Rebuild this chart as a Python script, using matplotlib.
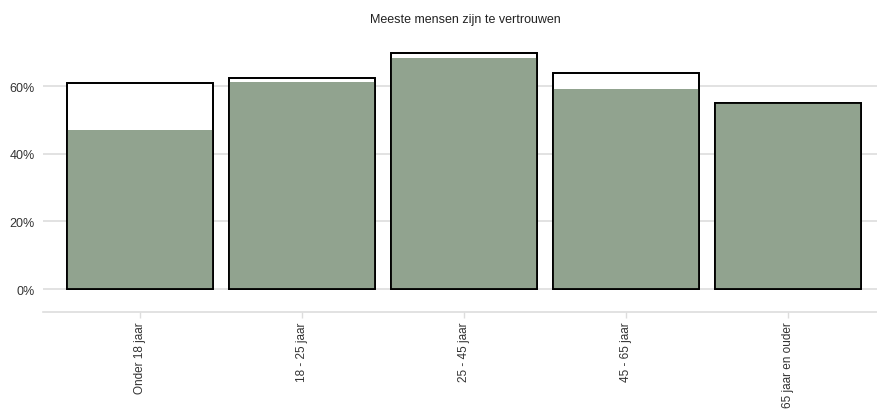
import matplotlib
matplotlib.use("Agg")
from matplotlib import pyplot as plt
from matplotlib.ticker import PercentFormatter

plt.rcParams["font.family"] = ["Liberation Sans", "DejaVu Sans"]

leeftijden = ["Onder 18 jaar", "18 - 25 jaar", "25 - 45 jaar", "45 - 65 jaar", "65 jaar en ouder"]
# buitenste omlijnde balk en gevulde (groene) balk, in procenten
totaal = [61.0, 62.4, 69.8, 63.9, 55.0]
gevuld = [47.0, 61.3, 68.3, 59.3, 55.0]

groen = "#91a38f"
grijs = "#dddddd"

fig = plt.figure(figsize=(8.78, 4.10), dpi=100)
ax = fig.add_axes([43 / 878, 1 - 313 / 410, 1 - 43 / 878, (313 - 40) / 410])

xs = list(range(len(leeftijden)))

# witte balk met rand, daarna groen, daarna de rand nog een keer erover
ax.bar(xs, totaal, width=0.9, color="white", edgecolor="black", linewidth=1.3, zorder=2)
ax.bar(xs, gevuld, width=0.9, color=groen, linewidth=0, zorder=3)
ax.bar(xs, totaal, width=0.9, fill=False, edgecolor="black", linewidth=1.3, zorder=4)

ax.set_xlim(-0.6, 4.556)
ax.set_ylim(-6.8, 74)
ax.set_yticks([0, 20, 40, 60])
ax.yaxis.set_major_formatter(PercentFormatter(decimals=0))
ax.yaxis.grid(True, color=grijs, linewidth=1.2, zorder=0)
ax.set_axisbelow(True)

ax.set_xticks(xs)
ax.set_xticklabels(leeftijden, rotation=90, fontsize=8.5, color="#333333")
ax.tick_params(axis="x", length=4, color=grijs, width=1, pad=3)
ax.tick_params(axis="y", length=0, labelsize=9, labelcolor="#333333", pad=6)

for side in ["top", "right", "left"]:
    ax.spines[side].set_visible(False)
ax.spines["bottom"].set_color(grijs)
ax.spines["bottom"].set_linewidth(1.2)

fig.text(465 / 878, 1 - 20 / 410, "Meeste mensen zijn te vertrouwen", ha="center", va="center",
         fontsize=9, color="#222222")

fig.savefig("out.png", dpi=100)
